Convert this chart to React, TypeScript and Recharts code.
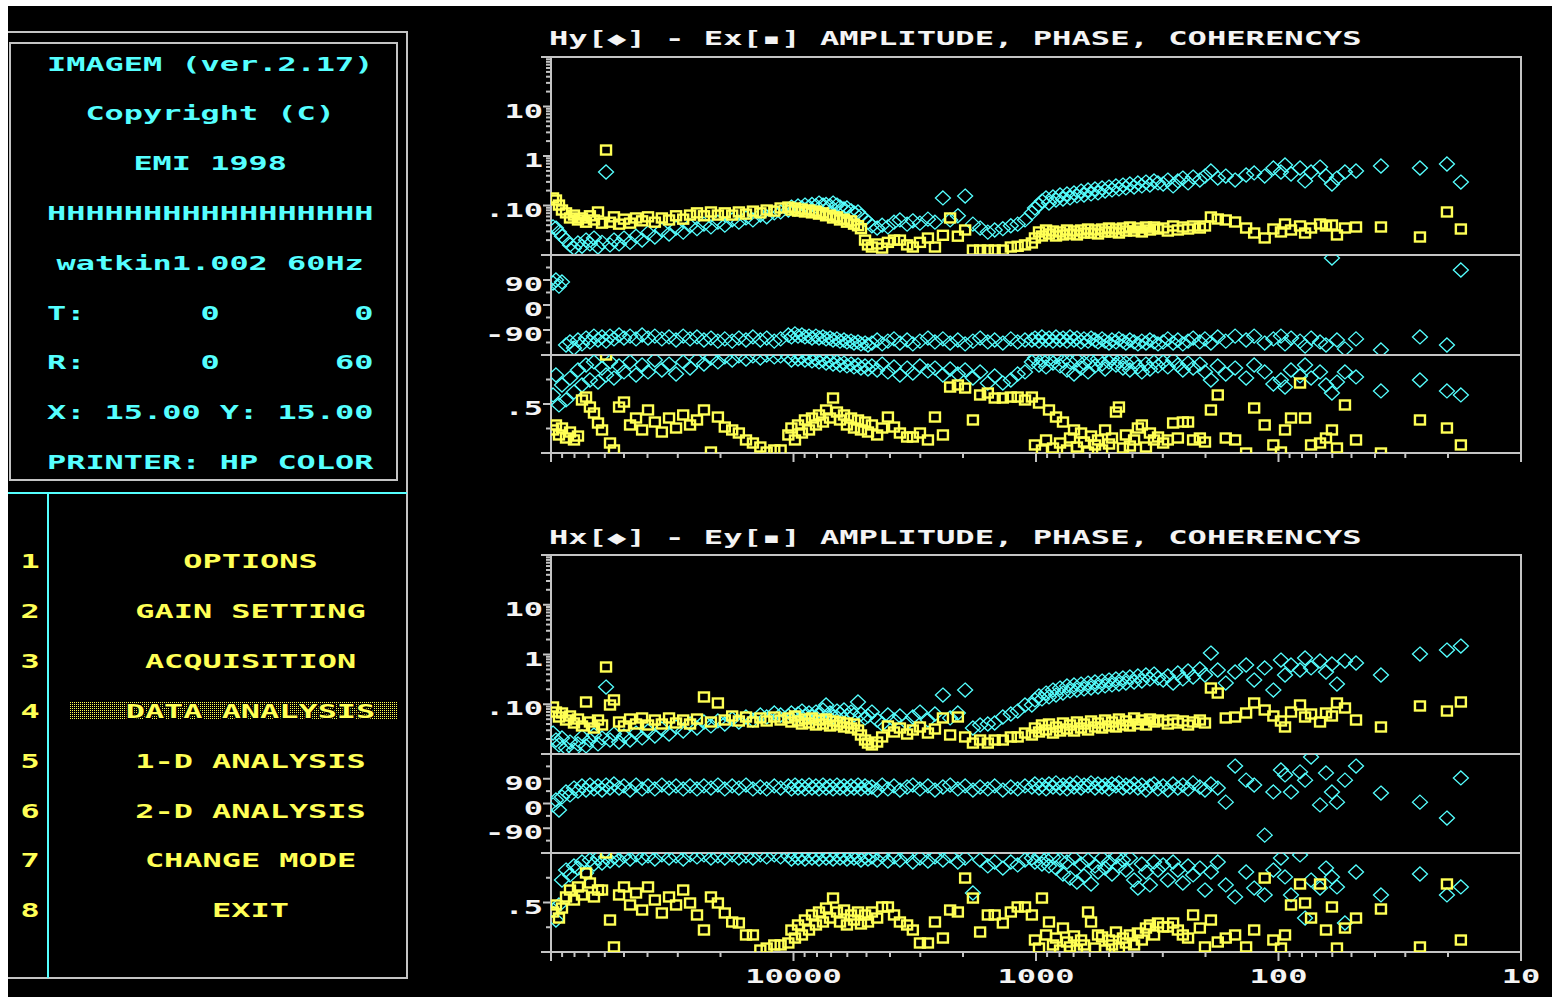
import React from "react";
import { ScatterChart, Scatter, XAxis, YAxis, ReferenceArea } from "recharts";

const CYAN = "#55FFFF";
const YELLOW = "#FFFF55";
const FRAME = "#C4C4C4";
const WHITE = "#F4F4F4";
const DOS_FONT = "'DejaVu Sans Mono', 'Liberation Mono', monospace";

// sounding frequencies in Hz, shared by both channel pairs
const FREQS = [
  98100, 95400, 92700, 90100, 86700, 83500, 80400, 77400, 74500, 71700, 69100, 66500, 64000, 61600,
  59300, 57100, 55000, 52400, 50000, 47200, 44600, 42100, 39800, 37300, 34900, 32600, 30500, 28500,
  26700, 25000, 23400, 21900, 20500, 19200, 17900, 16800, 15700, 14700, 13700, 12900, 12000, 11300,
  10500, 10200, 9860, 9580, 9230, 8970, 8630, 8390, 8080, 7850, 7560, 7340, 7070, 6870, 6620, 6430,
  6190, 6020, 5790, 5630, 5420, 5270, 5070, 4930,
  4750, 4520, 4310, 4080, 3850, 3640, 3400, 3220, 3010, 2790, 2610, 2420, 2260, 2100, 1960, 1820,
  1700, 1580, 1480, 1370, 1270, 1190, 1110,
  1040, 1010, 972, 945, 909, 884, 851, 827, 796, 774, 745, 724, 697, 678, 652, 634, 610, 593, 571,
  555, 534, 519, 500, 486, 468, 455, 438, 426, 410, 394, 380, 366, 352, 339, 326, 314,
  299, 286, 272, 260, 248, 236, 225, 211, 201, 190, 178, 165, 151, 136, 126, 114, 105, 97.7, 94,
  88.8, 81.5, 77.7, 73.4, 67.4, 63.7, 60.2, 57.4, 53.2,
  47.9, 37.8, 26.1, 20.2, 17.7,
];

// Hy / Ex pair
const HY_AMP = [
  0.037, 0.035, 0.029, 0.024, 0.02, 0.016, 0.0138, 0.0175, 0.015, 0.02, 0.0167, 0.022, 0.0145, 0.018,
  0.475, 0.016, 0.02, 0.0167, 0.022, 0.018, 0.024, 0.02, 0.028, 0.023, 0.032, 0.0265, 0.035, 0.029,
  0.039, 0.034, 0.042, 0.037, 0.046, 0.04, 0.051, 0.046, 0.056, 0.051, 0.064, 0.059, 0.071, 0.074,
  0.081, 0.093, 0.085, 0.098, 0.089, 0.102, 0.093, 0.105, 0.098, 0.112, 0.102, 0.105, 0.098, 0.112,
  0.102, 0.093, 0.085, 0.089, 0.078, 0.071, 0.074, 0.062, 0.053, 0.046,
  0.039, 0.035, 0.04, 0.037, 0.046, 0.051, 0.042, 0.049, 0.044, 0.053, 0.046, 0.142, 0.051, 0.062,
  0.155, 0.042, 0.035, 0.029, 0.032, 0.034, 0.039, 0.042, 0.051,
  0.071, 0.089, 0.102, 0.123, 0.142, 0.112, 0.149, 0.129, 0.163, 0.135, 0.171, 0.142, 0.179, 0.156,
  0.196, 0.163, 0.206, 0.171, 0.216, 0.179, 0.226, 0.196, 0.236, 0.206, 0.248, 0.216, 0.259, 0.226,
  0.272, 0.236, 0.285, 0.248, 0.298, 0.259, 0.313, 0.285,
  0.272, 0.327, 0.248, 0.313, 0.359, 0.285, 0.376, 0.327, 0.394, 0.498, 0.359, 0.394, 0.327, 0.413,
  0.454, 0.394, 0.572, 0.475, 0.658, 0.433, 0.572, 0.313, 0.475, 0.599, 0.394, 0.272, 0.359, 0.475,
  0.498, 0.628, 0.572, 0.689, 0.298,
];
const EX_AMP = [
  0.142, 0.129, 0.102, 0.081, 0.071, 0.056, 0.064, 0.051, 0.056, 0.046, 0.062, 0.051, 0.074, 0.044,
  1.32, 0.046, 0.059, 0.042, 0.053, 0.044, 0.056, 0.049, 0.059, 0.046, 0.056, 0.051, 0.062, 0.053,
  0.064, 0.071, 0.062, 0.074, 0.064, 0.071, 0.064, 0.074, 0.067, 0.077, 0.071, 0.081, 0.077, 0.089,
  0.093, 0.081, 0.089, 0.077, 0.085, 0.074, 0.081, 0.071, 0.077, 0.067, 0.071, 0.062, 0.064, 0.056,
  0.059, 0.051, 0.053, 0.046, 0.049, 0.042, 0.039, 0.034, 0.02, 0.016,
  0.0145, 0.0167, 0.0138, 0.018, 0.02, 0.02, 0.016, 0.0145, 0.018, 0.022, 0.0145, 0.025, 0.056, 0.024,
  0.032, 0.0126, 0.0126, 0.0126, 0.0126, 0.0126, 0.0145, 0.015, 0.016,
  0.0175, 0.0221, 0.0292, 0.0242, 0.032, 0.0266, 0.0305, 0.0242, 0.0292, 0.0254, 0.032, 0.0266,
  0.0305, 0.0254, 0.032, 0.0278, 0.0335, 0.0278, 0.032, 0.0266, 0.0335, 0.0292, 0.0351, 0.0292,
  0.0335, 0.0278, 0.0351, 0.0305, 0.0368, 0.0305, 0.0351, 0.0292, 0.0368, 0.032, 0.0368, 0.0335,
  0.0351, 0.0305, 0.0386, 0.032, 0.0368, 0.0335, 0.0386, 0.0351, 0.0386, 0.0587, 0.0534, 0.051,
  0.0464, 0.0351, 0.0278, 0.0221, 0.0335, 0.0292, 0.0423, 0.032, 0.0386, 0.0278, 0.0351, 0.0423,
  0.0386, 0.0404, 0.0254, 0.0351,
  0.0368, 0.0368, 0.0231, 0.074, 0.0335,
];
const HY_PHASE = [
  79, 90, 68, 83, -144, -133, -155, -126, -140, -119, -133, -112, -126, -115, -130, -112, -122, -108,
  -119, -112, -122, -108, -119, -112, -122, -115, -126, -112, -122, -115, -126, -119, -130, -122,
  -130, -119, -126, -115, -126, -119, -130, -122,
  -108, -115, -104, -112, -108, -115, -112, -119, -112, -119, -115, -122, -119, -126, -122, -130,
  -126, -133, -130, -137, -133, -140, -137, -144,
  -137, -126, -140, -130, -122, -137, -126, -140, -130, -119, -133, -122, -137, -126, -140, -130,
  -119, -133, -126, -137, -122, -133, -126,
  -126, -119, -130, -115, -126, -119, -130, -115, -126, -119, -130, -115, -126, -119, -133, -122,
  -130, -119, -126, -133, -122, -130, -137, -126, -133, -122, -130, -137, -126, -133, -140, -130,
  -137, -126, -133, -140,
  -133, -122, -137, -126, -140, -130, -119, -133, -122, -137, -115, -130, -112, -126, -112, -137,
  -122, -112, -140, -119, -130, -148, -119, -133, -144, 169, -126, -158,
  -122, -162, -115, -144, 126,
];
const HY_COH = [
  0.592, 0.796, 0.49, 0.694, 0.541, 0.765, 0.622, 0.847, 0.694, 0.898, 0.745, 0.929, 0.724, 0.867,
  0.796, 0.929, 0.765, 0.888, 0.827, 0.929, 0.796, 0.898, 0.827, 0.949, 0.847, 0.908, 0.806, 0.929,
  0.867, 0.949, 0.908, 0.969, 0.929, 0.98, 0.949, 0.99, 0.959, 0.99, 0.969, 1.0, 0.98, 0.99,
  0.98, 0.949, 0.99, 0.959, 0.98, 0.949, 0.969, 0.939, 0.959, 0.929, 0.949, 0.918, 0.939, 0.908,
  0.929, 0.898, 0.918, 0.888, 0.908, 0.878, 0.898, 0.867, 0.888, 0.857,
  0.888, 0.847, 0.908, 0.827, 0.878, 0.796, 0.867, 0.816, 0.888, 0.837, 0.867, 0.796, 0.857, 0.806,
  0.847, 0.765, 0.827, 0.714, 0.786, 0.714, 0.745, 0.806, 0.827,
  0.929, 0.969, 0.898, 0.949, 0.878, 0.959, 0.918, 0.98, 0.888, 0.939, 0.847, 0.929, 0.806, 0.949,
  0.867, 0.918, 0.827, 0.939, 0.888, 0.959, 0.908, 0.857, 0.929, 0.969, 0.898, 0.939, 0.867, 0.918,
  0.847, 0.929, 0.878, 0.827, 0.908, 0.857, 0.929, 0.888,
  0.929, 0.878, 0.949, 0.898, 0.847, 0.918, 0.867, 0.908, 0.827, 0.745, 0.888, 0.806, 0.867, 0.765,
  0.898, 0.827, 0.704, 0.745, 0.673, 0.847, 0.786, 0.898, 0.765, 0.827, 0.694, 0.612, 0.724, 0.827,
  0.776, 0.633, 0.745, 0.633, 0.592,
];
const EX_COH = [
  0.235, 0.286, 0.184, 0.255, 0.153, 0.214, 0.133, 0.173, 0.541, 0.571, 0.469, 0.408, 0.306, 0.235,
  1.0, 0.102, 0.031, 0.469, 0.52, 0.286, 0.357, 0.235, 0.439, 0.316, 0.214, 0.357, 0.255, 0.388,
  0.286, 0.337, 0.439, 0.01, 0.367, 0.265, 0.235, 0.204, 0.133, 0.102, 0.061, 0.01, 0.031, 0.031,
  0.184, 0.255, 0.133, 0.286, 0.204, 0.337, 0.235, 0.357, 0.286, 0.388, 0.316, 0.439, 0.357, 0.561,
  0.418, 0.337, 0.388, 0.286, 0.357, 0.255, 0.337, 0.235, 0.316, 0.214,
  0.286, 0.184, 0.255, 0.367, 0.265, 0.204, 0.163, 0.163, 0.204, 0.133, 0.367, 0.184, 0.673, 0.694,
  0.663, 0.337, 0.592, 0.612, 0.561, 0.561, 0.571, 0.571, 0.541,
  0.571, 0.082, 0.51, 0.031, 0.133, 0.439, 0.051, 0.367, 0.102, 0.316, 0.031, 0.153, 0.235, 0.061,
  0.204, 0.112, 0.01, 0.173, 0.082, 0.133, 0.031, 0.235, 0.092, 0.153, 0.418, 0.469, 0.051, 0.184,
  0.071, 0.133, 0.255, 0.286, 0.061, 0.204, 0.133, 0.163,
  0.102, 0.133, 0.306, 0.153, 0.316, 0.316, 0.133, 0.153, 0.112, 0.439, 0.592, 0.153, 0.133, 0,
  0.459, 0.286, 0.082, 0.01, 0.235, 0.357, 0.714, 0.357, 0.082, 0.102, 0.153, 0.235, 0.051, 0.49,
  0.133, 0, 0.337, 0.255, 0.082,
];

// Hx / Ey pair
const HX_AMP = [
  0.0264, 0.0191, 0.0152, 0.021, 0.0132, 0.0174, 0.012, 0.0159, 0.022, 0.0145, 0.0191, 0.0241,
  0.0159, 0.021, 0.222, 0.0191, 0.0252, 0.0174, 0.023, 0.0191, 0.0264, 0.021, 0.029, 0.023, 0.0318,
  0.0252, 0.0349, 0.029, 0.0401, 0.0333, 0.044, 0.0366, 0.0461, 0.0401, 0.0505, 0.044, 0.0554,
  0.0482, 0.0608, 0.0554, 0.0667, 0.0608,
  0.0581, 0.0667, 0.053, 0.0637, 0.0731, 0.0581, 0.0667, 0.0554, 0.0698, 0.0608, 0.0766, 0.0966,
  0.0667, 0.0554, 0.0731, 0.0637, 0.0766, 0.0581, 0.0698, 0.0608, 0.111, 0.0637, 0.053, 0.0581,
  0.0698, 0.0482, 0.0401, 0.0608, 0.0482, 0.0581, 0.042, 0.0554, 0.0698, 0.0482, 0.0637, 0.153,
  0.053, 0.0667, 0.193, 0.0333, 0.0383, 0.0401, 0.042, 0.0554, 0.0637, 0.0731, 0.0966,
  0.0966, 0.122, 0.147, 0.128, 0.168, 0.14, 0.193, 0.153, 0.212, 0.168, 0.233, 0.185, 0.244, 0.193,
  0.255, 0.203, 0.267, 0.212, 0.28, 0.222, 0.293, 0.233, 0.307, 0.244, 0.322, 0.255, 0.337, 0.267,
  0.353, 0.28, 0.37, 0.293, 0.387, 0.322, 0.405, 0.337,
  0.307, 0.37, 0.267, 0.425, 0.322, 0.466, 0.353, 0.511, 0.387, 1.07, 0.488, 0.267, 0.445, 0.615,
  0.307, 0.536, 0.193, 0.774, 0.387, 0.615, 0.488, 0.851, 0.536, 0.74, 0.445, 0.644, 0.255, 0.74,
  0.675, 0.387, 1.02, 1.23, 1.48,
];
const EY_AMP = [
  0.0881, 0.0698, 0.0554, 0.0667, 0.0482, 0.0581, 0.042, 0.0505, 0.0366, 0.111, 0.044, 0.0333,
  0.0482, 0.0383, 0.561, 0.0966, 0.122, 0.044, 0.0366, 0.0505, 0.0401, 0.053, 0.0383, 0.0482,
  0.0401, 0.053, 0.042, 0.0482, 0.0401, 0.0505, 0.14, 0.044, 0.106, 0.0482, 0.0581, 0.0461, 0.0554,
  0.044, 0.053, 0.0461, 0.0554, 0.0482,
  0.053, 0.044, 0.0581, 0.0461, 0.0401, 0.0505, 0.042, 0.053, 0.0383, 0.0482, 0.0401, 0.0505,
  0.0366, 0.0461, 0.0383, 0.044, 0.0349, 0.042, 0.0333, 0.0401, 0.0304, 0.0241, 0.0191, 0.0166,
  0.0152, 0.0174, 0.022, 0.0366, 0.0277, 0.0333, 0.0252, 0.0304, 0.0349, 0.0264, 0.0318, 0.053,
  0.0241, 0.0554, 0.022, 0.0166, 0.0191, 0.0166, 0.0191, 0.0191, 0.022, 0.022, 0.0264,
  0.0241, 0.0333, 0.0277, 0.0383, 0.0304, 0.0401, 0.0264, 0.0349, 0.029, 0.042, 0.0318, 0.0383,
  0.029, 0.044, 0.0333, 0.0401, 0.0304, 0.0461, 0.0349, 0.042, 0.0333, 0.0482, 0.0366, 0.044,
  0.0349, 0.0505, 0.0383, 0.0461, 0.0366, 0.053, 0.0401, 0.0482, 0.0383, 0.0505, 0.044, 0.0482,
  0.0461, 0.0401, 0.0482, 0.042, 0.0461, 0.0383, 0.044, 0.0482, 0.042, 0.212, 0.168, 0.053, 0.0554,
  0.0667, 0.106, 0.0766, 0.0581, 0.0461, 0.0349, 0.0698, 0.0966, 0.0554, 0.0637, 0.044, 0.0667,
  0.0581, 0.106, 0.0841,
  0.0482, 0.0349, 0.0923, 0.0731, 0.111,
];
const HX_PHASE = [
  -5, 13, -24, 24, 42, 31, 56, 45, 64, 49, 67, 53, 64, 49, 67, 56, 71, 56, 64, 49, 67, 53, 64, 53,
  67, 56, 64, 53, 64, 53, 64, 56, 67, 53, 64, 56, 67, 53, 60, 53, 64, 56,
  64, 53, 67, 56, 64, 53, 67, 56, 64, 53, 67, 56, 64, 53, 67, 56, 64, 53, 64, 56, 67, 53, 64, 56,
  60, 49, 67, 53, 64, 49, 60, 67, 53, 64, 49, 60, 67, 53, 64, 49, 60, 53, 64, 49, 60, 53, 64,
  60, 71, 56, 67, 53, 71, 60, 75, 56, 67, 53, 71, 60, 75, 56, 67, 64, 75, 56, 71, 60, 67, 53, 71,
  64, 75, 56, 67, 60, 71, 56, 67, 49, 64, 71, 53,
  64, 49, 71, 56, 67, 53, 75, 60, 49, 71, 56, 5, 136, 85, 67, -115, 42, 122, 104, 42, 115, 85, 169,
  -5, 111, 42, 5, 85,
  136, 38, 5, -53, 93,
];
const HX_COH = [
  0.424, 0.323, 0.475, 0.727, 0.828, 0.778, 0.869, 0.848, 0.909, 0.798, 0.929, 0.889, 0.949, 0.899,
  0.96, 0.919, 0.96, 0.929, 0.97, 0.939, 0.98, 0.949, 0.97, 0.939, 0.98, 0.949, 0.97, 0.939, 0.98,
  0.96, 0.98, 0.949, 0.97, 0.949, 0.98, 0.949, 0.97, 0.949, 0.98, 0.96, 0.98, 0.96,
  0.97, 0.939, 0.98, 0.949, 0.97, 0.939, 0.98, 0.949, 0.97, 0.939, 0.98, 0.949, 0.97, 0.939, 0.98,
  0.949, 0.97, 0.939, 0.97, 0.949, 0.96, 0.929, 0.96, 0.939,
  0.96, 0.929, 0.97, 0.919, 0.96, 0.929, 0.97, 0.909, 0.949, 0.919, 0.96, 0.929, 0.97, 0.909, 0.949,
  0.596, 0.929, 0.869, 0.909, 0.848, 0.909, 0.879, 0.929,
  0.949, 0.909, 0.97, 0.889, 0.939, 0.869, 0.96, 0.848, 0.929, 0.788, 0.909, 0.747, 0.949, 0.707,
  0.889, 0.768, 0.929, 0.687, 0.869, 0.808, 0.949, 0.848, 0.909, 0.788, 0.96, 0.869, 0.929, 0.828,
  0.949, 0.727, 0.646, 0.889, 0.808, 0.677, 0.909, 0.828,
  0.879, 0.727, 0.909, 0.828, 0.697, 0.869, 0.778, 0.848, 0.626, 0.808, 0.909, 0.677, 0.556, 0.808,
  0.646, 0.576, 0.828, 0.949, 0.758, 0.576, 0.98, 0.343, 0.727, 0.646, 0.848, 0.758, 0.657, 0.293,
  0.808, 0.576, 0.788, 0.576, 0.657,
];
const EY_COH = [
  0.404, 0.475, 0.343, 0.444, 0.556, 0.626, 0.525, 0.657, 0.576, 0.798, 0.697, 0.556, 0.626, 0.626,
  1.0, 0.323, 0.051, 0.576, 0.657, 0.475, 0.596, 0.424, 0.657, 0.525, 0.394, 0.556, 0.475, 0.626,
  0.495, 0.374, 0.222, 0.556, 0.495, 0.394, 0.303, 0.293, 0.172, 0.172, 0.02, 0.04, 0.071, 0.071,
  0.091, 0.222, 0.141, 0.273, 0.172, 0.323, 0.222, 0.374, 0.273, 0.404, 0.303, 0.444, 0.343, 0.545,
  0.404, 0.303, 0.424, 0.273, 0.374, 0.323, 0.404, 0.283, 0.374, 0.303,
  0.404, 0.343, 0.455, 0.455, 0.374, 0.303, 0.273, 0.222, 0.091, 0.091, 0.303, 0.141, 0.424, 0.404,
  0.747, 0.545, 0.202, 0.374, 0.374, 0.293, 0.404, 0.455, 0.455,
  0.374, 0.121, 0.04, 0.545, 0.172, 0.303, 0.071, 0.141, 0.02, 0.242, 0.101, 0.051, 0.162, 0.02,
  0.121, 0.071, 0.404, 0.303, 0.04, 0.172, 0.152, 0.02, 0.121, 0.071, 0.202, 0.04, 0.141, 0.091,
  0.172, 0.071, 0.192, 0.121, 0.242, 0.273, 0.172, 0.293,
  0.253, 0.253, 0.293, 0.222, 0.172, 0.141, 0.374, 0.242, 0.051, 0.323, 0.101, 0.141, 0.172, 0.051,
  0.222, 0.747, 0.121, 0.04, 0.172, 0.475, 0.687, 0.495, 0.343, 0.687, 0.222, 0.455, 0.04, 0.242,
  0.343, 0.434, 0.051, 0.687, 0.121,
];

// axis ticks and the few that carry a label
const X_TICKS = [
  10, 20, 30, 40, 50, 60, 70, 80, 90, 100, 200, 300, 400, 500, 600, 700, 800, 900, 1000, 2000, 3000,
  4000, 5000, 6000, 7000, 8000, 9000, 10000, 20000, 30000, 40000, 50000, 60000, 70000, 80000, 90000,
  100000,
];
const X_MAJOR = [10, 100, 1000, 10000, 100000];
const X_LABELS: Record<string, string> = { "10000": "10000", "1000": "1000", "100": "100", "10": "10" };

const AMP_TICKS = [
  0.01, 0.02, 0.03, 0.04, 0.05, 0.06, 0.07, 0.08, 0.09, 0.1, 0.2, 0.3, 0.4, 0.5, 0.6, 0.7, 0.8, 0.9,
  1, 2, 3, 4, 5, 6, 7, 8, 9, 10, 20, 30, 40, 50, 60, 70, 80, 90, 100,
];
const PHASE_TICKS = [-180, -135, -90, -45, 0, 45, 90, 135, 180];
const COH_TICKS = [0, 0.25, 0.5, 0.75, 1];

const AMP_LABELS: Record<string, string> = { "10": "10", "1": "1", "0.1": ".10" };
const PHASE_LABELS: Record<string, string> = { "90": "90", "0": "0", "-90": "-90" };
const COH_LABELS: Record<string, string> = { "0.5": ".5" };

const INFO_LINES = [
  "IMAGEM (ver.2.17)",
  "Copyright (C)",
  "EMI 1998",
  "HHHHHHHHHHHHHHHHH",
  "watkin1.002 60Hz",
  "T:      0       0",
  "R:      0      60",
  "X: 15.00 Y: 15.00",
  "PRINTER: HP COLOR",
];
const MENU_ITEMS = [
  "OPTIONS",
  "GAIN SETTING",
  "ACQUISITION",
  "DATA ANALYSIS",
  "1-D ANALYSIS",
  "2-D ANALYSIS",
  "CHANGE MODE",
  "EXIT",
];
const ACTIVE_ITEM = 3;

type Kind = "amp" | "phase" | "coh";

const AXES: Record<Kind, any> = {
  amp: { scale: "log", domain: [0.01, 100], ticks: AMP_TICKS, major: [0.1, 1, 10], labels: AMP_LABELS },
  phase: { scale: "linear", domain: [-180, 180], ticks: PHASE_TICKS, major: [-90, 0, 90], labels: PHASE_LABELS },
  coh: { scale: "linear", domain: [0, 1], ticks: COH_TICKS, major: [0.5], labels: COH_LABELS },
};

const BLOCKS = [
  {
    title: "Hy[\u25C6] - Ex[\u25AA] AMPLITUDE, PHASE, COHERENCYS",
    titleY: 45,
    rows: [57, 255, 355, 453],
    amp: [HY_AMP, EX_AMP],
    phase: HY_PHASE,
    coh: [HY_COH, EX_COH],
    xLabels: false,
  },
  {
    title: "Hx[\u25C6] - Ey[\u25AA] AMPLITUDE, PHASE, COHERENCYS",
    titleY: 544,
    rows: [555, 754, 853, 952],
    amp: [HX_AMP, EY_AMP],
    phase: HX_PHASE,
    coh: [HX_COH, EY_COH],
    xLabels: true,
  },
];

function DosText({ x, y, text, color = WHITE, anchor = "start", size = 19, pitch = 19.3, outline = false }: any) {
  return (
    <text
      x={x}
      y={y}
      fill={color}
      fontFamily={DOS_FONT}
      fontWeight="bold"
      fontSize={size}
      textAnchor={anchor}
      textLength={text.length * pitch}
      lengthAdjust="spacingAndGlyphs"
      stroke={outline ? "#000" : "none"}
      strokeWidth={outline ? 2 : 0}
      paintOrder="stroke"
      style={{ whiteSpace: "pre" }}
    >
      {text}
    </text>
  );
}

// hollow diamond for the magnetic channel
const diamond = (p: any) => {
  const { cx, cy } = p;
  if (cx == null || cy == null) return <g />;
  return (
    <polygon
      points={`${cx},${cy - 7} ${cx + 7.5},${cy} ${cx},${cy + 7} ${cx - 7.5},${cy}`}
      fill="none"
      stroke={CYAN}
      strokeWidth={1.3}
    />
  );
};

// hollow square for the electric channel
const square = (p: any) => {
  const { cx, cy } = p;
  if (cx == null || cy == null) return <g />;
  return <rect x={cx - 5} y={cy - 4.5} width={10} height={9} fill="none" stroke={YELLOW} strokeWidth={2.4} />;
};

function YTick(props: any) {
  const { x, y, payload, kind } = props;
  const cfg = AXES[kind as Kind];
  const v = payload.value;
  const edge = v === cfg.domain[0] || v === cfg.domain[1];
  const label = cfg.labels[String(v)];
  const len = edge ? 10 : cfg.major.includes(v) ? 8 : 5;
  return (
    <g>
      <line x1={x - len} x2={x} y1={y} y2={y} stroke={FRAME} strokeWidth={2} />
      {label && <DosText x={x - 8} y={y + 11} text={label} anchor="end" />}
    </g>
  );
}

function XTick(props: any) {
  const { x, y, payload, showLabels } = props;
  const v = payload.value;
  const major = X_MAJOR.includes(v);
  const label = X_LABELS[String(v)];
  return (
    <g>
      <line x1={x} x2={x} y1={y} y2={y + (major ? 9 : 5)} stroke={FRAME} strokeWidth={2} />
      {showLabels && label && <DosText x={x} y={y + 31} text={label} anchor="middle" />}
    </g>
  );
}

const toPoints = (values: number[]) =>
  FREQS.map((f, i) => ({ f, v: values[i] })).filter((d) => d.v != null);

function Panel({ kind, top, bottom, cyan, yellow, xAxis }: any) {
  const pad = 12;
  const axisH = 40;
  const plotH = bottom - top;
  const height = pad + plotH + (xAxis ? axisH : pad);
  const cfg = AXES[kind as Kind];
  return (
    <div style={{ position: "absolute", left: 480, top: top - pad, width: 1072, height }}>
      <ScatterChart
        width={1072}
        height={height}
        margin={{ top: pad, right: 31, bottom: xAxis ? 0 : pad, left: 0 }}
      >
        <XAxis
          type="number"
          dataKey="f"
          scale="log"
          domain={[10, 100000]}
          reversed
          allowDataOverflow
          hide={!xAxis}
          height={axisH}
          ticks={X_TICKS}
          interval={0}
          tickSize={0}
          tickMargin={0}
          tickLine={false}
          axisLine={false}
          tick={(p: any) => <XTick {...p} showLabels={xAxis === "labels"} />}
        />
        <YAxis
          type="number"
          dataKey="v"
          scale={cfg.scale}
          domain={cfg.domain}
          allowDataOverflow
          width={71}
          ticks={cfg.ticks}
          interval={0}
          tickSize={0}
          tickMargin={0}
          tickLine={false}
          axisLine={{ stroke: FRAME, strokeWidth: 2 }}
          tick={(p: any) => <YTick {...p} kind={kind} />}
        />
        <ReferenceArea
          x1={100000}
          x2={10}
          y1={cfg.domain[0]}
          y2={cfg.domain[1]}
          fill="none"
          fillOpacity={0}
          stroke={FRAME}
          strokeWidth={2}
          ifOverflow="visible"
        />
        <Scatter data={toPoints(cyan)} shape={diamond} isAnimationActive={false} />
        {yellow && <Scatter data={toPoints(yellow)} shape={square} isAnimationActive={false} />}
      </ScatterChart>
    </div>
  );
}

function Screen() {
  const infoPitch = 19.2;
  return (
    <svg width={1552} height={997} style={{ position: "absolute", left: 0, top: 0 }}>
      <defs>
        <pattern id="dither" width={2} height={2} patternUnits="userSpaceOnUse">
          <rect x={0} y={0} width={1} height={1} fill={YELLOW} />
        </pattern>
      </defs>
      <rect x={8} y={6} width={1544} height={991} fill="#000" />

      {/* status box */}
      <polyline points="8,32 407,32 407,978 8,978" fill="none" stroke={FRAME} strokeWidth={2} />
      <rect x={10} y={43} width={387} height={437} fill="none" stroke={FRAME} strokeWidth={2} />
      {INFO_LINES.map((line, i) => {
        const offset = ((17 - line.length) / 2) * infoPitch;
        return (
          <DosText
            key={line}
            x={47 + offset}
            y={70.5 + i * 49.8}
            text={line}
            color={CYAN}
            size={20}
            pitch={infoPitch}
          />
        );
      })}

      {/* menu */}
      <line x1={8} x2={407} y1={493} y2={493} stroke={CYAN} strokeWidth={2} />
      <line x1={48} x2={48} y1={493} y2={978} stroke={CYAN} strokeWidth={2} />
      <rect x={70} y={702} width={328} height={17} fill="url(#dither)" />
      {MENU_ITEMS.map((item, i) => {
        const y = 568 + i * 49.9;
        return (
          <g key={item}>
            <DosText x={20.5} y={y} text={String(i + 1)} color={YELLOW} size={20} pitch={infoPitch} />
            <DosText
              x={250.5 - (item.length * infoPitch) / 2}
              y={y}
              text={item}
              color={YELLOW}
              size={20}
              pitch={infoPitch}
              outline={i === ACTIVE_ITEM}
            />
          </g>
        );
      })}

      {BLOCKS.map((b) => (
        <DosText key={b.title} x={549} y={b.titleY} text={b.title} pitch={19.35} />
      ))}
    </svg>
  );
}

export default function App() {
  return (
    <div style={{ position: "absolute", left: 0, top: 0, width: 1552, height: 997, background: "#fff" }}>
      <Screen />
      {BLOCKS.map((b) => (
        <React.Fragment key={b.title}>
          <Panel kind="amp" top={b.rows[0]} bottom={b.rows[1]} cyan={b.amp[0]} yellow={b.amp[1]} />
          <Panel kind="phase" top={b.rows[1]} bottom={b.rows[2]} cyan={b.phase} />
          <Panel
            kind="coh"
            top={b.rows[2]}
            bottom={b.rows[3]}
            cyan={b.coh[0]}
            yellow={b.coh[1]}
            xAxis={b.xLabels ? "labels" : "ticks"}
          />
        </React.Fragment>
      ))}
    </div>
  );
}
